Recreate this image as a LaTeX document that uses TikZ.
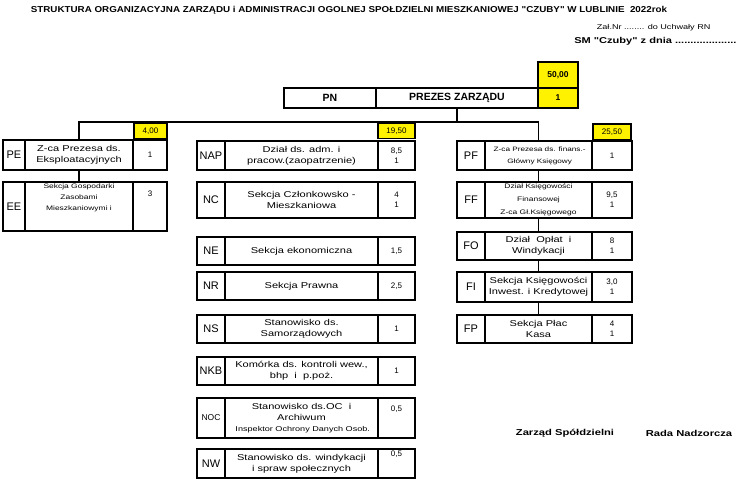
\documentclass[tikz,border=0pt]{standalone}
\usepackage{fontspec}
\setmainfont{Liberation Sans}
\newfontfamily\wide[FakeStretch=1.3]{Liberation Sans}
\newfontfamily\titlefont[FakeStretch=1.14]{Liberation Sans}
\usetikzlibrary{calc}

% column edges (x of code cell, text cell, number cell, right edge)
\def\La{3}\def\Lb{25}\def\Lc{133}\def\Ld{167}
\def\Ma{197}\def\Mb{225}\def\Mc{378}\def\Md{415}
\def\Ra{457}\def\Rb{485}\def\Rc{592}\def\Rd{632}

\newcommand\unit[7]{%
  \edef\xa{\csname#2a\endcsname}\edef\xb{\csname#2b\endcsname}%
  \edef\xc{\csname#2c\endcsname}\edef\xd{\csname#2d\endcsname}%
  \node[cell, font=\fontsize{11}{12}\selectfont, minimum width={\xb-\xa}, minimum height={#4-#3}]
    (#1-c) at ({(\xa+\xb)/2},{(#3+#4)/2}) {#5};
  \node[cell, minimum width={\xc-\xb}, minimum height={#4-#3}]
    (#1-t) at ({(\xb+\xc)/2},{(#3+#4)/2}) {#6};
  \node[cell, font=\fontsize{8}{10}\selectfont, minimum width={\xd-\xc}, minimum height={#4-#3}]
    (#1-n) at ({(\xc+\xd)/2},{(#3+#4)/2}) {#7};
}

\tikzset{
  cell/.style={draw, line width=1.4pt, inner sep=0pt, align=center,
    font=\wide\fontsize{8.5}{11}\selectfont},
  head/.style={cell, fill=yellow, font=\fontsize{8}{10}\selectfont},
  conn/.style={line width=1.4pt}
}
\newcommand\sm[1][6.5]{\fontsize{#1}{9}\selectfont}

\begin{document}
\begin{tikzpicture}[x=1pt, y=-1pt]
  \useasboundingbox (0,0) rectangle (740,480);

  \node[font=\titlefont\bfseries\fontsize{8.6}{10}\selectfont] (title) at (349,10)
    {STRUKTURA ORGANIZACYJNA ZARZĄDU i ADMINISTRACJI OGOLNEJ SPOŁDZIELNI MIESZKANIOWEJ "CZUBY" W LUBLINIE \ 2022rok};
  \node[font=\wide\fontsize{7}{8}\selectfont, anchor=east] (zal) at (714,28) {Zał.Nr ........ do Uchwały RN};
  \node[font=\wide\bfseries\fontsize{8.5}{10}\selectfont, anchor=east] (dnia) at (740,41) {SM "Czuby" z dnia ....................};

  % prezes
  \node[head, font=\bfseries\fontsize{8.5}{10}\selectfont, minimum width=40, minimum height=26, text depth=-6pt] (total) at (558,75) {50,00};
  \node[cell, font=\bfseries\fontsize{10.5}{12}\selectfont, minimum width=92, minimum height=20] (pn) at (330,98) {PN};
  \node[cell, font=\bfseries\fontsize{10.5}{12}\selectfont, minimum width=162, minimum height=20] (prez) at (457,98) {PREZES ZARZĄDU};
  \node[head, font=\bfseries\fontsize{8.5}{10}\selectfont, minimum width=40, minimum height=20] (prez-n) at (558,98) {1};

  % headers
  \node[head, minimum width=33, minimum height=15] (sumL) at (150.5,131) {4,00};
  \node[head, minimum width=37, minimum height=15] (sumM) at (396.5,131) {19,50};
  \node[head, minimum width=38, minimum height=16] (sumR) at (612,132) {25,50};

  % left
  \unit{pe}{L}{140}{170}{PE}{Z-ca Prezesa ds.\\Eksploatacyjnych}{1}
  \unit{ee}{L}{182}{231}{EE}{\sm Sekcja Gospodarki\\\sm Zasobami\\\sm Mieszkaniowymi i\\[8pt]}{3\\[16pt]}

  % middle
  \unit{nap}{M}{141}{170}{NAP}{Dział ds. adm. i\\pracow.(zaopatrzenie)}{8,5\\1}
  \unit{nc}{M}{182}{218}{NC}{Sekcja Członkowsko -\\Mieszkaniowa}{4\\1}
  \unit{ne}{M}{237}{265}{NE}{Sekcja ekonomiczna}{1,5}
  \unit{nr}{M}{272}{300}{NR}{Sekcja Prawna}{2,5}
  \unit{ns}{M}{315}{343}{NS}{Stanowisko ds.\\Samorządowych}{1}
  \unit{nkb}{M}{357}{385}{NKB}{Komórka ds. kontroli wew.,\\bhp \ i \ p.poż.}{1}
  \unit{noc}{M}{398}{438}{\fontsize{8.5}{10}\selectfont NOC}{Stanowisko ds.OC \ i\\Archiwum\\\sm[7] Inspektor Ochrony Danych Osob.}{0,5\\[8pt]}
  \unit{nw}{M}{449}{478}{NW}{Stanowisko ds. windykacji\\i spraw społecznych}{0,5\\[10pt]}

  % right
  \unit{pf}{R}{141}{170}{PF}{\sm[6.3] Z-ca Prezesa ds. finans.-\\[1pt]\sm[6.3] Główny Księgowy}{1}
  \unit{ff}{R}{182}{218}{FF}{\sm Dział Księgowości\\[2pt]\sm Finansowej\\[2pt]\sm Z-ca Gł.Księgowego}{9,5\\1}
  \unit{fo}{R}{232}{260}{FO}{Dział \ Opłat \ i\\Windykacji}{8\\1}
  \unit{fi}{R}{272}{302}{FI}{Sekcja Księgowości\\Inwest. i Kredytowej}{3,0\\1}
  \unit{fp}{R}{315}{343}{FP}{Sekcja Płac\\Kasa}{4\\1}

  % connectors
  \coordinate (bus) at (prez.south |- 0,122);
  \draw[conn] (prez.south) -- (bus);
  \draw[conn] (pe-t.north) |- (bus) -| (pf-t.north);
  \draw[conn] (pe-t.south) -- (ee-t.north);
  \foreach \a/\b in {pf/ff, ff/fo, fo/fi, fi/fp}
    \draw[conn] (\a-t.south) -- (\b-t.north);

  \node[font=\wide\bfseries\fontsize{8.6}{10}\selectfont] (zarzad) at (565,433) {Zarząd Spółdzielni};
  \node[font=\wide\bfseries\fontsize{8.6}{10}\selectfont] (rada) at (689,433) {Rada Nadzorcza};
\end{tikzpicture}
\end{document}
